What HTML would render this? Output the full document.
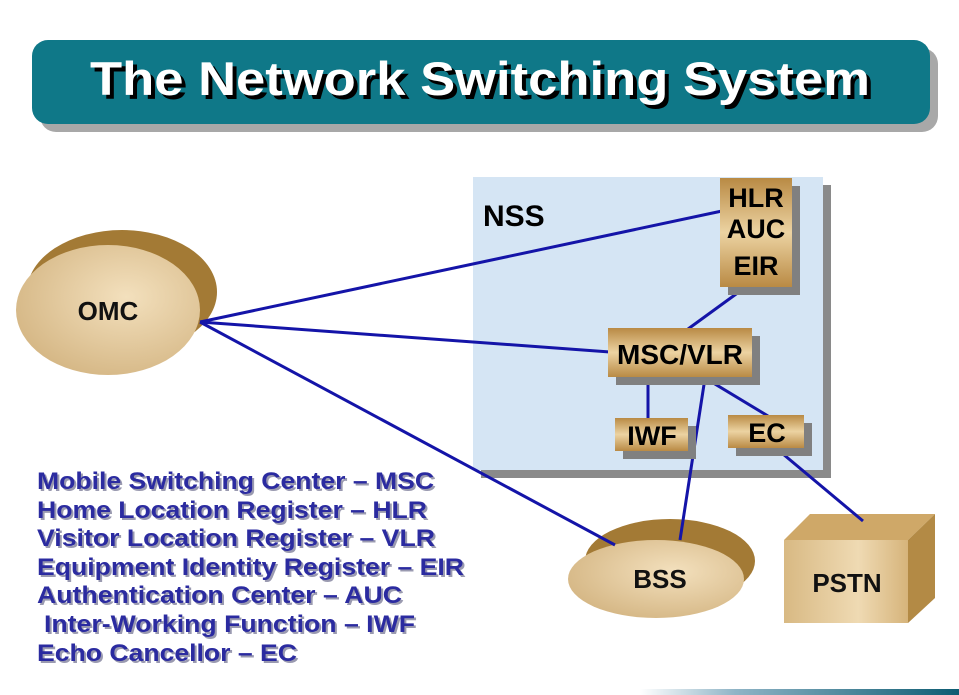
<!DOCTYPE html>
<html><head><meta charset="utf-8"><style>html,body{margin:0;padding:0;background:#fff}svg{display:block}</style></head>
<body>
<svg width="959" height="695" viewBox="0 0 959 695" xmlns="http://www.w3.org/2000/svg" font-family="Liberation Sans, Arial, sans-serif" font-weight="bold">
<defs>
<linearGradient id="tan" x1="0" y1="0" x2="0" y2="1">
<stop offset="0" stop-color="#b98a44"/><stop offset="0.5" stop-color="#ecd3a2"/><stop offset="1" stop-color="#b98a44"/></linearGradient>
<radialGradient id="ell" cx="0.6" cy="0.4" r="0.7">
<stop offset="0" stop-color="#f3e0bd"/><stop offset="1" stop-color="#d3b481"/></radialGradient>
<linearGradient id="box" x1="0" y1="0" x2="1" y2="0">
<stop offset="0" stop-color="#d8b983"/><stop offset="0.6" stop-color="#efdab3"/><stop offset="1" stop-color="#d6b47b"/></linearGradient>
<linearGradient id="strip" x1="0" y1="0" x2="1" y2="0">
<stop offset="0" stop-color="#fff"/><stop offset="0.3" stop-color="#8fb4c6"/><stop offset="1" stop-color="#0d5c72"/></linearGradient>
</defs>
<!-- title -->
<rect x="40" y="48" width="898" height="84" rx="16" fill="#a8a8a8"/>
<rect x="32" y="40" width="898" height="84" rx="16" fill="#0f7888"/>
<text x="484" y="99" font-size="47" text-anchor="middle" fill="#000" textLength="780" lengthAdjust="spacingAndGlyphs">The Network Switching System</text>
<text x="480" y="95" font-size="47" text-anchor="middle" fill="#fff" textLength="780" lengthAdjust="spacingAndGlyphs">The Network Switching System</text>
<!-- NSS -->
<rect x="481" y="185" width="350" height="293" fill="#8a8a8a"/>
<rect x="473" y="177" width="350" height="293" fill="#d5e5f4"/>
<text x="483" y="226" font-size="30" font-weight="normal" fill="#000" style="font-weight:bold">NSS</text>
<!-- OMC -->
<ellipse cx="122" cy="292" rx="95" ry="62" fill="#a37a35"/>
<ellipse cx="108" cy="310" rx="92" ry="65" fill="url(#ell)"/>
<text x="108" y="320" font-size="26" text-anchor="middle" fill="#111">OMC</text>
<!-- BSS -->
<ellipse cx="670" cy="561" rx="85" ry="42" fill="#a37a35"/>
<ellipse cx="656" cy="579" rx="88" ry="39" fill="url(#ell)"/>
<text x="660" y="588" font-size="26" text-anchor="middle" fill="#111">BSS</text>
<!-- PSTN -->
<polygon points="784,540 810,514 935,514 908,540" fill="#cfa868"/>
<polygon points="908,540 935,514 935,598 908,623" fill="#b38a45"/>
<rect x="784" y="540" width="124" height="83" fill="url(#box)"/>
<text x="847" y="592" font-size="26" text-anchor="middle" fill="#111">PSTN</text>
<!-- lines -->
<g stroke="#1414a8" stroke-width="3" fill="none">
<line x1="200" y1="322" x2="722" y2="211"/>
<line x1="200" y1="322" x2="610" y2="352"/>
<line x1="200" y1="322" x2="615" y2="545"/>
<line x1="743" y1="289" x2="688" y2="329"/>
<line x1="648" y1="378" x2="648" y2="419"/>
<line x1="705" y1="378" x2="680" y2="540"/>
<line x1="705" y1="378" x2="768" y2="416"/>
<line x1="777" y1="449" x2="863" y2="521"/>
</g>
<!-- HLR box -->
<rect x="728" y="186" width="72" height="109" fill="#808080"/>
<rect x="720" y="178" width="72" height="109" fill="url(#tan)"/>
<text x="756" y="207" font-size="27" text-anchor="middle" fill="#000">HLR</text>
<text x="756" y="238" font-size="27" text-anchor="middle" fill="#000">AUC</text>
<text x="756" y="275" font-size="27" text-anchor="middle" fill="#000">EIR</text>
<!-- MSC -->
<rect x="616" y="336" width="144" height="49" fill="#808080"/>
<rect x="608" y="328" width="144" height="49" fill="url(#tan)"/>
<text x="680" y="364" font-size="28" text-anchor="middle" fill="#000">MSC/VLR</text>
<!-- IWF -->
<rect x="623" y="426" width="73" height="33" fill="#808080"/>
<rect x="615" y="418" width="73" height="33" fill="url(#tan)"/>
<text x="652" y="445" font-size="27" text-anchor="middle" fill="#000">IWF</text>
<!-- EC -->
<rect x="736" y="423" width="76" height="33" fill="#808080"/>
<rect x="728" y="415" width="76" height="33" fill="url(#tan)"/>
<text x="767" y="442" font-size="27" text-anchor="middle" fill="#000">EC</text>
<!-- legend -->
<g font-size="24">
<g fill="#9a9ab0" transform="translate(2,2)">
<text x="37" y="489" textLength="397" lengthAdjust="spacingAndGlyphs">Mobile Switching Center – MSC</text>
<text x="37" y="518" textLength="390" lengthAdjust="spacingAndGlyphs">Home Location Register – HLR</text>
<text x="37" y="546" textLength="398" lengthAdjust="spacingAndGlyphs">Visitor Location Register – VLR</text>
<text x="37" y="575" textLength="427" lengthAdjust="spacingAndGlyphs">Equipment Identity Register – EIR</text>
<text x="37" y="603" textLength="365" lengthAdjust="spacingAndGlyphs">Authentication Center – AUC</text>
<text x="44" y="632" textLength="371" lengthAdjust="spacingAndGlyphs">Inter-Working Function – IWF</text>
<text x="37" y="661" textLength="260" lengthAdjust="spacingAndGlyphs">Echo Cancellor – EC</text>
</g>
<g fill="#2b2ba0">
<text x="37" y="489" textLength="397" lengthAdjust="spacingAndGlyphs">Mobile Switching Center – MSC</text>
<text x="37" y="518" textLength="390" lengthAdjust="spacingAndGlyphs">Home Location Register – HLR</text>
<text x="37" y="546" textLength="398" lengthAdjust="spacingAndGlyphs">Visitor Location Register – VLR</text>
<text x="37" y="575" textLength="427" lengthAdjust="spacingAndGlyphs">Equipment Identity Register – EIR</text>
<text x="37" y="603" textLength="365" lengthAdjust="spacingAndGlyphs">Authentication Center – AUC</text>
<text x="44" y="632" textLength="371" lengthAdjust="spacingAndGlyphs">Inter-Working Function – IWF</text>
<text x="37" y="661" textLength="260" lengthAdjust="spacingAndGlyphs">Echo Cancellor – EC</text>
</g>
</g>
<rect x="640" y="689" width="319" height="6" fill="url(#strip)"/>
</svg>
</body></html>
